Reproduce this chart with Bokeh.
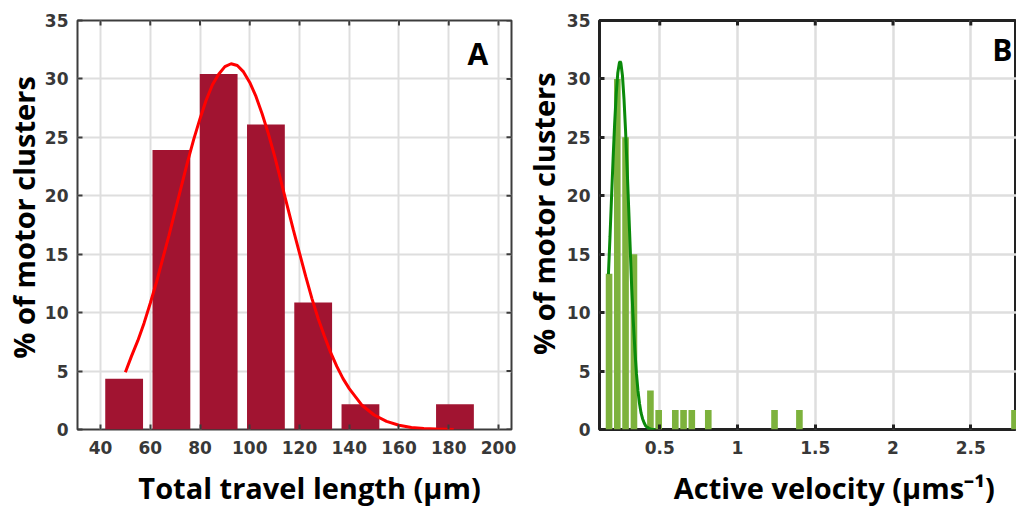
import math
from bokeh.plotting import figure
from bokeh.layouts import row
from bokeh.models import Range1d, FixedTicker, Label
from bokeh.embed import file_html
from bokeh.resources import INLINE

# ---------------- Panel A data ----------------
length_centers = [49.5, 68.5, 87.5, 106.5, 125.5, 144.5, 163.5, 182.5]
length_pct = [4.35, 23.91, 30.43, 26.09, 10.87, 2.17, 0.0, 2.17]
length_fit_x = [50, 52.5, 55, 57.5, 60, 62.5, 65, 67.5, 70, 72.5, 75, 77.5, 80, 82.5,
                85, 87.5, 90, 92.5, 95, 97.5, 100, 102.5, 105, 107.5, 110, 112.5,
                115, 117.5, 120, 122.5, 125, 127.5, 130, 132.5, 135, 137.5, 140,
                145, 150, 155, 160, 165, 170, 175, 182]
length_fit_y = [4.9, 6.3, 7.6, 9.1, 10.8, 12.6, 14.6, 16.6, 18.7, 20.8, 22.9, 24.85,
                26.6, 28.2, 29.5, 30.4, 31.05, 31.3, 31.15, 30.6, 29.7, 28.5, 27.0,
                25.3, 23.4, 21.3, 19.2, 17.1, 15.1, 13.1, 11.2, 9.5, 8.0, 6.6, 5.4,
                4.35, 3.5, 2.1, 1.24, 0.69, 0.36, 0.18, 0.09, 0.04, 0.01]
length_ticks = [40, 60, 80, 100, 120, 140, 160, 180, 200]

# ---------------- Panel B data ----------------
vel_centers = [0.174, 0.227, 0.280, 0.334, 0.440, 0.493, 0.600, 0.653, 0.706,
               0.812, 1.238, 1.398, 2.781]
vel_pct = [13.33, 30.0, 25.0, 15.0, 3.33, 1.67, 1.67, 1.67, 1.67,
           1.67, 1.67, 1.67, 1.67]
vel_fit_x = [0.17, 0.18, 0.19, 0.20, 0.21, 0.22, 0.23, 0.24, 0.245, 0.25, 0.26, 0.27,
             0.28, 0.29, 0.30, 0.31, 0.32, 0.33, 0.34, 0.35, 0.36, 0.37, 0.38, 0.39,
             0.40, 0.41, 0.42, 0.43, 0.44, 0.45, 0.46, 0.47]
vel_fit_y = [13.3, 16.5, 19.9, 23.2, 26.2, 28.7, 30.5, 31.35, 31.5, 31.35, 30.3, 28.3,
             25.6, 22.4, 19.0, 15.5, 12.0, 9.2, 6.8, 4.8, 3.3, 2.2, 1.4, 0.9,
             0.55, 0.3, 0.18, 0.1, 0.05, 0.02, 0.01, 0.0]
vel_ticks = [0.5, 1, 1.5, 2, 2.5, 3]

y_ticks = [0, 5, 10, 15, 20, 25, 30, 35]

TICK_FONT = "DejaVu Sans"
LABEL_FONT = "Open Sans"
NB = "\u00a0"


def style(p, xticks, line_col, line_w, grid_w, tick_len, mirror_right=True):
    p.outline_line_color = line_col
    p.outline_line_width = line_w
    p.background_fill_color = "white"
    p.border_fill_color = "white"
    for ax in (p.xaxis[0], p.yaxis[0]):
        ax.axis_line_color = None
        ax.major_tick_in = tick_len
        ax.major_tick_out = 0
        ax.major_tick_line_color = line_col
        ax.major_tick_line_width = line_w
        ax.minor_tick_line_color = None
        ax.major_label_text_font = TICK_FONT
        ax.major_label_text_font_style = "bold"
        ax.major_label_text_font_size = "17px"
        ax.major_label_text_color = "#383838"
        ax.axis_label_text_font = LABEL_FONT
        ax.axis_label_text_font_style = "bold"
        ax.axis_label_text_font_size = "29px"
        ax.axis_label_text_color = "black"
    p.xaxis[0].ticker = FixedTicker(ticks=xticks)
    p.yaxis[0].ticker = FixedTicker(ticks=y_ticks)
    p.xaxis[0].major_label_standoff = 11
    p.yaxis[0].major_label_standoff = 9
    p.xgrid.grid_line_color = "#dedede"
    p.ygrid.grid_line_color = "#dedede"
    p.xgrid.grid_line_width = grid_w
    p.ygrid.grid_line_width = grid_w
    # mirrored inward ticks on top (and right) edges
    ytop = p.y_range.end
    p.scatter(x=xticks, y=[ytop] * len(xticks), marker="dash", angle=math.pi / 2,
              size=2 * tick_len, line_color=line_col, line_width=line_w)
    if mirror_right:
        xr = p.x_range.end
        p.scatter(x=[xr] * len(y_ticks), y=y_ticks, marker="dash",
                  size=2 * tick_len, line_color=line_col, line_width=line_w)


# ---------------- Panel A ----------------
pA = figure(width=520, height=512, output_backend="svg", toolbar_location=None,
            x_range=Range1d(30.75, 205.23), y_range=Range1d(0, 35),
            min_border_left=77, min_border_right=9, min_border_top=16,
            min_border_bottom=83)
pA.vbar(x=length_centers, top=length_pct, width=15.2, bottom=0,
        fill_color="#A11431", line_color=None)
pA.line(length_fit_x, length_fit_y, line_color="#FF0000", line_width=3)
style(pA, length_ticks, "#3c3c3c", 2, 2, 5)
pA.xaxis[0].axis_label = NB * 4 + "Total travel length (µm)"
pA.xaxis[0].axis_label_standoff = 11
pA.yaxis[0].axis_label = NB * 2 + "% of motor clusters"
pA.yaxis[0].axis_label_standoff = -1
pA.add_layout(Label(x=187.5, y=32.2, text="A", text_font=LABEL_FONT,
                    text_font_style="bold", text_font_size="30px",
                    text_align="left", text_baseline="alphabetic",
                    text_color="black"))

# ---------------- Panel B ----------------
pB = figure(width=496, height=512, output_backend="svg", toolbar_location=None,
            x_range=Range1d(0.1125, 2.794), y_range=Range1d(0, 35),
            min_border_left=76, min_border_right=0, min_border_top=20,
            min_border_bottom=79)
pB.vbar(x=vel_centers, top=vel_pct, width=0.0426, bottom=0,
        fill_color="#7DB23C", line_color=None)
pB.line(vel_fit_x, vel_fit_y, line_color="#0A8A0A", line_width=3)
style(pB, vel_ticks, "#222222", 3, 2.5, 5, mirror_right=False)
pB.xaxis[0].major_label_overrides = {1: "1", 2: "2", 3: "3"}
pB.xaxis[0].axis_label = NB * 7 + "Active velocity (µms⁻¹)"
pB.xaxis[0].axis_label_standoff = 11
pB.yaxis[0].axis_label = NB * 3 + "% of motor clusters"
pB.yaxis[0].axis_label_standoff = 1
pB.add_layout(Label(x=2.638, y=32.5, text="B", text_font=LABEL_FONT,
                    text_font_style="bold", text_font_size="30px",
                    text_align="left", text_baseline="alphabetic",
                    text_color="black"))

layout = row(pA, pB)
open("out.html", "w").write(file_html(layout, INLINE))
